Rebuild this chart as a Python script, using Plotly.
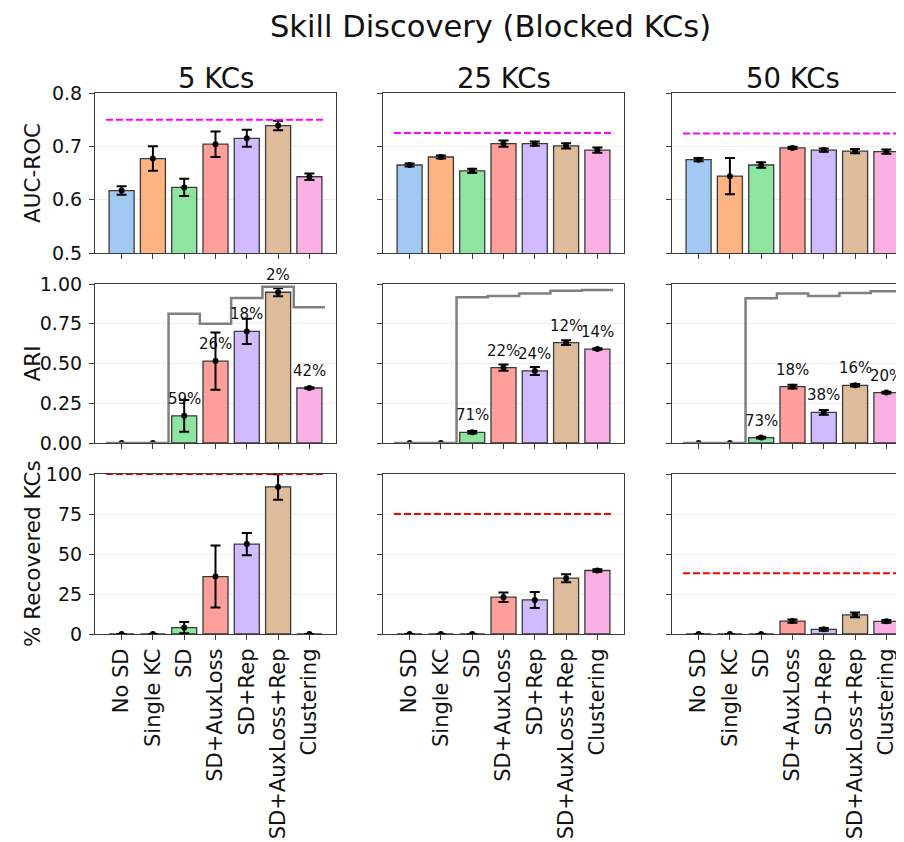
import plotly.graph_objects as go

# ---------------- data ----------------
methods = ["No SD", "Single KC", "SD", "SD+AuxLoss", "SD+Rep", "SD+AuxLoss+Rep", "Clustering"]
panels = ["5 KCs", "25 KCs", "50 KCs"]
colors = ["#a1c9f4", "#ffb482", "#8de5a1", "#ff9f9b", "#d0bbff", "#debb9b", "#fab0e4"]

auc_5 = [0.617, 0.677, 0.623, 0.704, 0.715, 0.739, 0.643]
auc_5_err = [0.008, 0.023, 0.016, 0.024, 0.016, 0.009, 0.006]
auc_25 = [0.665, 0.680, 0.654, 0.705, 0.705, 0.701, 0.693]
auc_25_err = [0.003, 0.003, 0.004, 0.006, 0.004, 0.005, 0.005]
auc_50 = [0.675, 0.644, 0.665, 0.697, 0.693, 0.691, 0.690]
auc_50_err = [0.003, 0.034, 0.005, 0.002, 0.003, 0.004, 0.004]
auc_ref = [0.750, 0.725, 0.724]

ari_5 = [0.0, 0.0, 0.171, 0.515, 0.702, 0.948, 0.346]
ari_5_err = [0.0, 0.0, 0.100, 0.180, 0.080, 0.025, 0.005]
ari_25 = [0.0, 0.0, 0.067, 0.474, 0.453, 0.631, 0.591]
ari_25_err = [0.0, 0.0, 0.008, 0.020, 0.025, 0.015, 0.005]
ari_50 = [0.0, 0.0, 0.034, 0.354, 0.193, 0.363, 0.317]
ari_50_err = [0.0, 0.0, 0.006, 0.012, 0.015, 0.008, 0.005]
ari_best_5 = [0.0, 0.0, 0.8125, 0.750, 0.9125, 0.983, 0.854]
ari_best_25 = [0.0, 0.0, 0.916, 0.925, 0.941, 0.958, 0.962]
ari_best_50 = [0.0, 0.0, 0.910, 0.940, 0.925, 0.943, 0.954]
ari_pct_5 = ["", "", "59%", "26%", "18%", "2%", "42%"]
ari_pct_25 = ["", "", "71%", "22%", "24%", "12%", "14%"]
ari_pct_50 = ["", "", "73%", "18%", "38%", "16%", "20%"]

rec_5 = [0.0, 0.0, 4.0, 35.9, 56.2, 91.9, 0.0]
rec_5_err = [0.0, 0.0, 3.5, 19.4, 7.0, 8.0, 0.0]
rec_25 = [0.0, 0.0, 0.0, 23.0, 21.3, 34.9, 39.7]
rec_25_err = [0.0, 0.0, 0.0, 3.0, 5.0, 2.5, 0.8]
rec_50 = [0.0, 0.0, 0.0, 8.1, 2.9, 11.9, 7.9]
rec_50_err = [0.0, 0.0, 0.0, 1.0, 0.8, 1.5, 0.8]
rec_ref = [100, 75, 38]

row_titles = ["AUC-ROC", "ARI", "% Recovered KCs"]
row_ranges = [[0.5, 0.8], [0.0, 1.0], [0, 100]]
row_ticks = [[0.5, 0.6, 0.7, 0.8], [0.0, 0.25, 0.5, 0.75, 1.0], [0, 25, 50, 75, 100]]
row_fmt = [".1f", ".2f", "d"]

# ---------------- layout geometry (screen pixels) ----------------
OFF = 8                       # page body margin
SW, SH = 904, 842             # screen size
W, H = SW - OFF, SH - OFF     # figure size
col_px = [(95, 336), (383, 624), (672, 904)]
row_px = [(93, 253), (284, 443), (474, 634)]
unit_px = (col_px[0][1] - col_px[0][0]) / 7.7
FONT = "DejaVu Sans"
AXC = "#3a3a3a"


def px(xs):
    return (xs - OFF) / W


def py(ys):
    return 1 - (ys - OFF) / H


idx = list(range(len(methods)))
data = [
    [(auc_5, auc_5_err), (auc_25, auc_25_err), (auc_50, auc_50_err)],
    [(ari_5, ari_5_err), (ari_25, ari_25_err), (ari_50, ari_50_err)],
    [(rec_5, rec_5_err), (rec_25, rec_25_err), (rec_50, rec_50_err)],
]
ari_best = [ari_best_5, ari_best_25, ari_best_50]
ari_pct = [ari_pct_5, ari_pct_25, ari_pct_50]

fig = go.Figure()
annotations = []
layout_axes = {}

for r in range(3):
    for c in range(3):
        k = r * 3 + c + 1
        xa = "x" if k == 1 else f"x{k}"
        ya = "y" if k == 1 else f"y{k}"
        vals, errs = data[r][c]
        fig.add_trace(go.Bar(
            x=idx, y=vals, xaxis=xa, yaxis=ya, width=0.8,
            marker=dict(color=colors, line=dict(color=AXC, width=1.3)),
            showlegend=False,
        ))
        fig.add_trace(go.Scatter(
            x=idx, y=vals, xaxis=xa, yaxis=ya, mode="markers",
            marker=dict(color="black", size=6),
            error_y=dict(type="data", array=errs, color="black", thickness=2, width=5),
            showlegend=False, cliponaxis=True,
        ))
        edge_x = [idx[0] - 0.5, idx[-1] + 0.5]
        if r == 0:
            fig.add_trace(go.Scatter(
                x=edge_x, y=[auc_ref[c]] * 2, xaxis=xa, yaxis=ya, mode="lines",
                line=dict(color="#ff00ff", width=2, dash="7px,3px"), showlegend=False,
            ))
        if r == 2:
            fig.add_trace(go.Scatter(
                x=edge_x, y=[rec_ref[c]] * 2, xaxis=xa, yaxis=ya, mode="lines",
                line=dict(color="#ff0000", width=2, dash="7px,3px"), showlegend=False,
                cliponaxis=False,
            ))
        if r == 1:
            best = ari_best[c]
            fig.add_trace(go.Scatter(
                x=[i - 0.5 for i in idx] + [idx[-1] + 0.5], y=best + [best[-1]],
                xaxis=xa, yaxis=ya, mode="lines", line_shape="hv",
                line=dict(color="#808080", width=2.5), showlegend=False,
            ))
            for i, t in zip(idx, ari_pct[c]):
                if t:
                    annotations.append(dict(
                        x=i, y=vals[i], xref=xa, yref=ya, text=t, showarrow=False,
                        yanchor="bottom", xanchor="center", yshift=6,
                        font=dict(family=FONT, size=15, color="#111"),
                    ))

        x0, x1 = col_px[c]
        y0, y1 = row_px[r]
        width_units = (x1 - x0) / unit_px
        layout_axes["xaxis" if k == 1 else f"xaxis{k}"] = dict(
            domain=[px(x0), min(1.0, px(x1))], anchor=ya, automargin=False,
            range=[-0.85, -0.85 + width_units],
            tickvals=idx, ticktext=methods, showticklabels=(r == 2),
            tickangle=-90, tickfont=dict(family=FONT, size=21, color="#111"),
            ticks="outside", ticklen=5, tickcolor=AXC,
            showline=True, linecolor=AXC, linewidth=1.2, mirror=True,
            showgrid=False, zeroline=False, fixedrange=True,
        )
        layout_axes["yaxis" if k == 1 else f"yaxis{k}"] = dict(
            domain=[py(y1), py(y0)], anchor=xa, automargin=False,
            range=row_ranges[r], tickvals=row_ticks[r], tickformat=row_fmt[r],
            showticklabels=(c == 0), tickfont=dict(family=FONT, size=19, color="#111"),
            ticks="outside", ticklen=5, tickcolor=AXC, ticklabelstandoff=3,
            showline=True, linecolor=AXC, linewidth=1.2, mirror=(c != 2),
            showgrid=True, gridcolor="#eeeeee", gridwidth=1, zeroline=False, fixedrange=True,
        )

# column titles
for c, t in enumerate(panels):
    x0 = col_px[c][0]
    cx = x0 + 7.7 * unit_px / 2
    annotations.append(dict(
        x=px(cx), y=py(78), xref="paper", yref="paper", text=t, showarrow=False,
        xanchor="center", yanchor="middle", font=dict(family=FONT, size=27.5, color="#111"),
    ))
# row titles
for r, t in enumerate(row_titles):
    cy = (row_px[r][0] + row_px[r][1]) / 2
    annotations.append(dict(
        x=px(32), y=py(cy), xref="paper", yref="paper", text=t, showarrow=False,
        textangle=-90, xanchor="center", yanchor="middle",
        font=dict(family=FONT, size=21.5, color="#111"),
    ))
# main title
annotations.append(dict(
    x=px(490), y=py(27), xref="paper", yref="paper", text="Skill Discovery (Blocked KCs)",
    showarrow=False, xanchor="center", yanchor="middle", borderpad=0,
    font=dict(family=FONT, size=30.5, color="#111"),
))

fig.update_layout(
    width=W, height=H, margin=dict(l=0, r=0, t=0, b=0, autoexpand=False),
    paper_bgcolor="white", plot_bgcolor="white",
    bargap=0.2, annotations=annotations, **layout_axes,
)
fig.write_html("out.html")
